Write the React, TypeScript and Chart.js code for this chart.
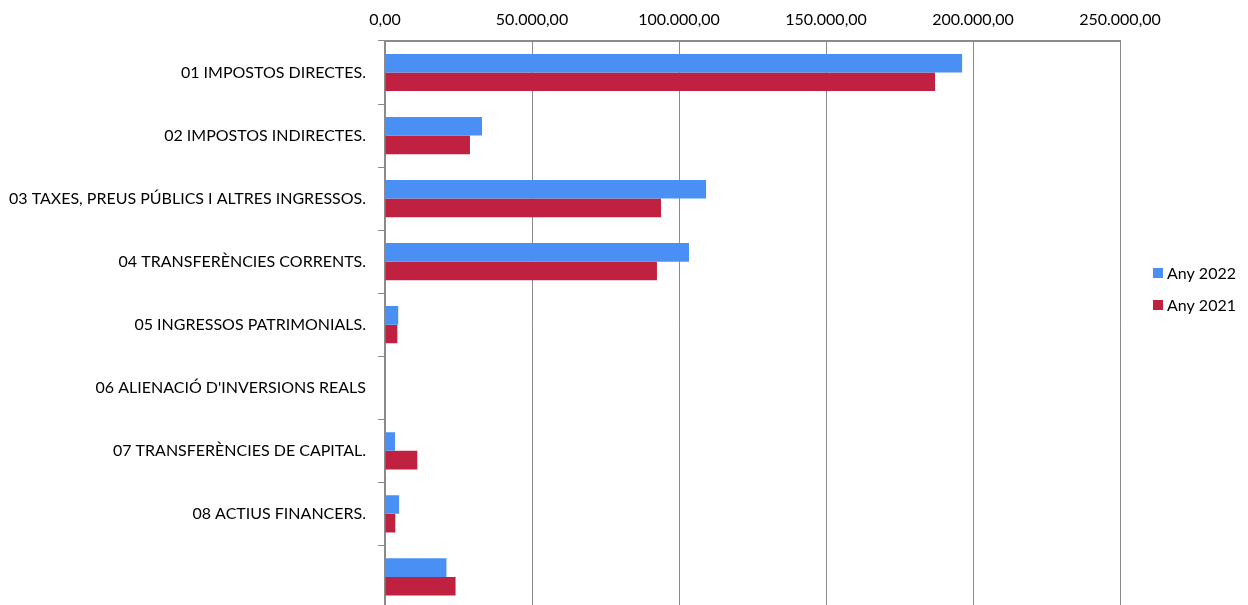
import React, { useEffect, useRef } from "react";
import { Chart, registerables } from "chart.js";

Chart.register(...registerables);

const categories = [
  "01 IMPOSTOS DIRECTES.",
  "02 IMPOSTOS INDIRECTES.",
  "03 TAXES, PREUS PÚBLICS I ALTRES INGRESSOS.",
  "04 TRANSFERÈNCIES CORRENTS.",
  "05 INGRESSOS PATRIMONIALS.",
  "06 ALIENACIÓ D'INVERSIONS REALS",
  "07 TRANSFERÈNCIES DE CAPITAL.",
  "08 ACTIUS FINANCERS.",
  "",
];

const seriesNames = ["Any 2022", "Any 2021"];
const values2022 = [196300, 33000, 109200, 103400, 4500, 0, 3400, 4800, 20900];
const values2021 = [187100, 28900, 93900, 92500, 4200, 0, 11000, 3500, 24000];

const xMin = 0;
const xMax = 250000;
const xStep = 50000;

const BLUE = "#4A90F4";
const RED = "#C12140";
const FONT = "Lato, 'Liberation Sans', sans-serif";

function fmt(v: number): string {
  const neg = v < 0;
  const n = Math.abs(v);
  const intPart = Math.floor(n).toString().replace(/\B(?=(\d{3})+(?!\d))/g, ".");
  const dec = Math.round((n - Math.floor(n)) * 100).toString().padStart(2, "0");
  return (neg ? "-" : "") + intPart + "," + dec;
}

const legendPlugin = {
  id: "customLegend",
  afterDraw(chart: any) {
    const ctx = chart.ctx;
    const area = chart.chartArea;
    ctx.save();
    ctx.font = `16px ${FONT}`;
    ctx.textBaseline = "middle";
    ctx.textAlign = "left";
    const x0 = area.right + 33;
    const yStart = 273;
    chart.data.datasets.forEach((ds: any, i: number) => {
      const y = yStart + i * 32;
      ctx.fillStyle = ds.backgroundColor;
      ctx.fillRect(x0, y - 5, 10, 10);
      ctx.fillStyle = "#000";
      ctx.fillText(ds.label, x0 + 14, y + 1);
    });
    ctx.restore();
  },
};

export default function App() {
  const ref = useRef<HTMLCanvasElement | null>(null);
  useEffect(() => {
    if (!ref.current) return;
    const chart = new Chart(ref.current, {
      type: "bar",
      data: {
        labels: categories,
        datasets: [
          { label: seriesNames[0], data: values2022, backgroundColor: BLUE },
          { label: seriesNames[1], data: values2021, backgroundColor: RED },
        ],
      },
      options: {
        indexAxis: "y",
        animation: false,
        responsive: true,
        maintainAspectRatio: false,
        layout: { padding: { left: 0, right: 128, top: 0, bottom: 0 } },
        datasets: { bar: { categoryPercentage: 0.59, barPercentage: 1.0 } },
        plugins: {
          legend: { display: false },
          tooltip: { enabled: false },
        },
        scales: {
          x: {
            position: "top",
            min: xMin,
            max: xMax,
            ticks: {
              stepSize: xStep,
              color: "#000",
              font: { family: FONT, size: 16 },
              padding: 12,
              callback: (v: any) => fmt(Number(v)),
            },
            grid: { color: "#8a8a8a", lineWidth: 1, drawTicks: false },
            border: { color: "#8a8a8a", width: 2 },
            afterFit: (s: any) => {
              s.height = 41;
            },
          },
          y: {
            ticks: {
              color: "#000",
              font: { family: FONT, size: 16 },
              padding: 12,
              autoSkip: false,
            },
            grid: {
              offset: true,
              drawOnChartArea: false,
              drawTicks: true,
              tickLength: 7,
              color: "#8a8a8a",
            },
            border: { color: "#8a8a8a", width: 2 },
            afterFit: (s: any) => {
              s.width = 385;
            },
          },
        },
      },
      plugins: [legendPlugin],
    });
    return () => chart.destroy();
  }, []);

  return (
    <div
      style={{
        position: "fixed",
        left: 0,
        top: 0,
        width: 1248,
        height: 605,
        overflow: "hidden",
        background: "#fff",
      }}
    >
      <div style={{ position: "relative", width: 1248, height: 630 }}>
        <canvas ref={ref} />
      </div>
    </div>
  );
}
